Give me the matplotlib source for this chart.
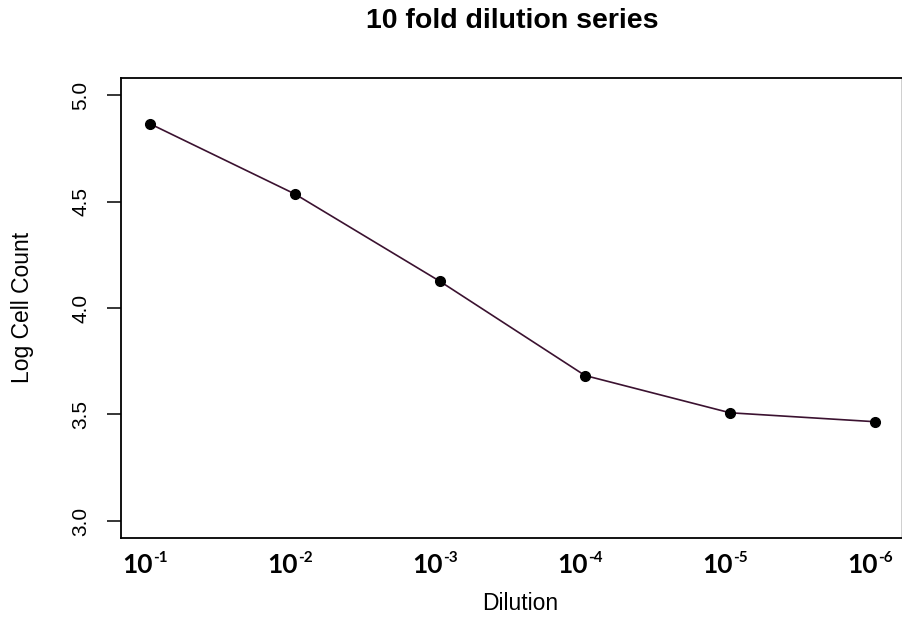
import numpy as np
import matplotlib
matplotlib.use("Agg")
import matplotlib.pyplot as plt
import matplotlib.transforms as mtransforms

# dilution steps and measured log cell counts
dilution_exp = [1, 2, 3, 4, 5, 6]
log_count = [4.865, 4.535, 4.125, 3.683, 3.508, 3.466]
base_labels = ["10"] * len(dilution_exp)
exp_labels = ["-%d" % e for e in dilution_exp]

plt.rcParams['font.family'] = ['Liberation Sans', 'DejaVu Sans']

fig = plt.figure(figsize=(9.03, 6.19), dpi=100)
ax = fig.add_axes([121 / 903, 1 - 538 / 619, 781 / 903, 460 / 619])

ax.plot(dilution_exp, log_count, color='#3b1230', lw=1.2, zorder=2)
ax.plot(dilution_exp, log_count, 'o', color='black', ms=7, zorder=3)

ax.set_xlim(0.8, 6.186)
ax.set_ylim(2.92, 5.08)
ax.set_yticks([3.0, 3.5, 4.0, 4.5, 5.0])
ax.set_yticklabels(['3.0', '3.5', '4.0', '4.5', '5.0'], rotation=90, va='center', fontsize=15)
ax.tick_params(axis='y', length=10, width=1.1, pad=12)

# x labels: bold "10" ending at each point, exponent raised just after it
ax.set_xticks(dilution_exp)
ax.set_xticklabels([])
ax.tick_params(axis='x', length=0)
trans = mtransforms.blended_transform_factory(ax.transData, ax.transAxes)
for x, base, lab in zip(dilution_exp, base_labels, exp_labels):
    ax.annotate(base, xy=(x, 0), xycoords=trans, xytext=(2, -11), textcoords='offset points',
                ha='right', va='top', fontsize=19, family='Lato', fontweight='bold',
                annotation_clip=False)
    ax.annotate(lab, xy=(x, 0), xycoords=trans, xytext=(2, -9), textcoords='offset points',
                ha='left', va='top', fontsize=11, family='Lato', fontweight='bold',
                annotation_clip=False)

for s in ax.spines.values():
    s.set_linewidth(1.3)
ax.spines['right'].set_color('#cccccc')

fig.text(520 / 903, 1 - 604 / 619, "Dilution", ha='center', va='center', fontsize=16.5)
fig.text(22.5 / 903, 1 - 307 / 619, "Log Cell Count", ha='center', va='center',
         rotation=90, fontsize=16.5)
fig.text(512 / 903, 1 - 21 / 619, "10 fold dilution series", ha='center', va='center',
         fontsize=20.5, fontweight='bold')

fig.savefig("out.png", dpi=100)
